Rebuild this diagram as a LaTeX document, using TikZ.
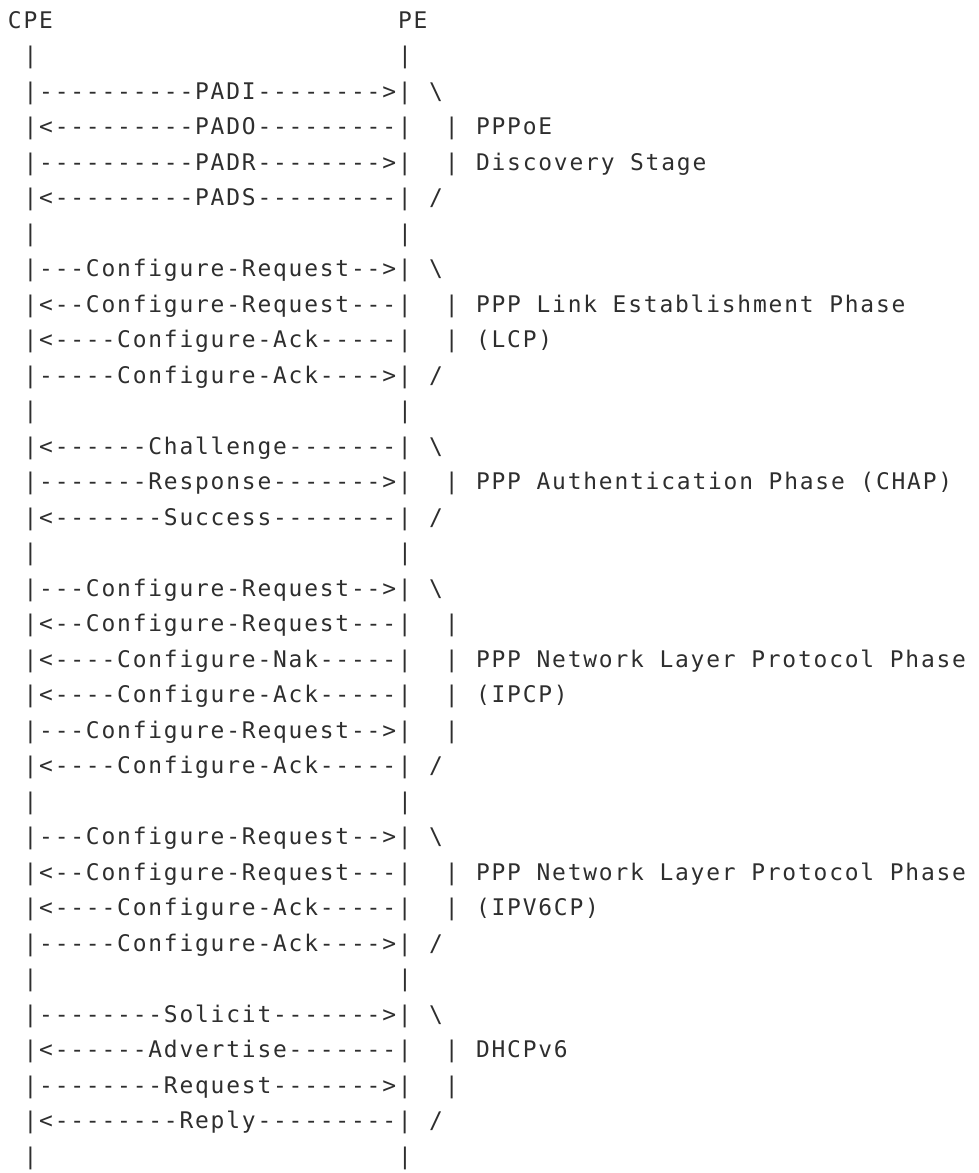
\documentclass[tikz,border=0pt]{standalone}
\usepackage{fontspec}
\setmonofont{DejaVu Sans Mono}[LetterSpace=7.9]
\usepackage{tikz}

\tikzset{
  txt/.style={anchor=base west, inner sep=0pt, outer sep=0pt, text=black!82,
    font=\ttfamily\fontsize{22.9}{27}\selectfont},
}
% column / row of the character grid
\newcommand{\cx}[1]{8+15.6*#1}
\newcommand{\ry}[1]{28+35.5*(#1-1)}
\newcommand{\Msg}[2]{\node[txt] (msg#1) at ({\cx{1}},{\ry{#1}}) {|#2|};}
\newcommand{\Gap}[1]{\node[txt] (cl#1) at ({\cx{1}},{\ry{#1}}) {|};
  \node[txt] (pl#1) at ({\cx{25}},{\ry{#1}}) {|};}
\newcommand{\Brk}[3]{\node[txt] (brk#1) at ({\cx{#2}},{\ry{#1}}) {#3};}
\newcommand{\Phase}[2]{\node[txt] (ph#1) at ({\cx{30}},{\ry{#1}}) {#2};}

\begin{document}
\begin{tikzpicture}[x=1pt,y=-1pt]
  \useasboundingbox (0,0) rectangle (979,1173);

  \node[txt] (cpe) at ({\cx{0}},{\ry{1}}) {CPE};
  \node[txt] (pe) at ({\cx{25}},{\ry{1}}) {PE};
  \Gap{2}

  % PPPoE discovery
  \Msg{3}{----------PADI-------->} \Brk{3}{27}{\textbackslash}
  \Msg{4}{<---------PADO---------} \Brk{4}{28}{|} \Phase{4}{PPPoE}
  \Msg{5}{----------PADR-------->} \Brk{5}{28}{|} \Phase{5}{Discovery Stage}
  \Msg{6}{<---------PADS---------} \Brk{6}{27}{/}
  \Gap{7}

  % LCP
  \Msg{8}{---Configure-Request-->} \Brk{8}{27}{\textbackslash}
  \Msg{9}{<--Configure-Request---} \Brk{9}{28}{|} \Phase{9}{PPP Link Establishment Phase}
  \Msg{10}{<----Configure-Ack-----} \Brk{10}{28}{|} \Phase{10}{(LCP)}
  \Msg{11}{-----Configure-Ack---->} \Brk{11}{27}{/}
  \Gap{12}

  % CHAP
  \Msg{13}{<------Challenge-------} \Brk{13}{27}{\textbackslash}
  \Msg{14}{-------Response------->} \Brk{14}{28}{|} \Phase{14}{PPP Authentication Phase (CHAP)}
  \Msg{15}{<-------Success--------} \Brk{15}{27}{/}
  \Gap{16}

  % IPCP
  \Msg{17}{---Configure-Request-->} \Brk{17}{27}{\textbackslash}
  \Msg{18}{<--Configure-Request---} \Brk{18}{28}{|}
  \Msg{19}{<----Configure-Nak-----} \Brk{19}{28}{|} \Phase{19}{PPP Network Layer Protocol Phase}
  \Msg{20}{<----Configure-Ack-----} \Brk{20}{28}{|} \Phase{20}{(IPCP)}
  \Msg{21}{---Configure-Request-->} \Brk{21}{28}{|}
  \Msg{22}{<----Configure-Ack-----} \Brk{22}{27}{/}
  \Gap{23}

  % IPV6CP
  \Msg{24}{---Configure-Request-->} \Brk{24}{27}{\textbackslash}
  \Msg{25}{<--Configure-Request---} \Brk{25}{28}{|} \Phase{25}{PPP Network Layer Protocol Phase}
  \Msg{26}{<----Configure-Ack-----} \Brk{26}{28}{|} \Phase{26}{(IPV6CP)}
  \Msg{27}{-----Configure-Ack---->} \Brk{27}{27}{/}
  \Gap{28}

  % DHCPv6
  \Msg{29}{--------Solicit------->} \Brk{29}{27}{\textbackslash}
  \Msg{30}{<------Advertise-------} \Brk{30}{28}{|} \Phase{30}{DHCPv6}
  \Msg{31}{--------Request------->} \Brk{31}{28}{|}
  \Msg{32}{<--------Reply---------} \Brk{32}{27}{/}
  \Gap{33}
\end{tikzpicture}
\end{document}
